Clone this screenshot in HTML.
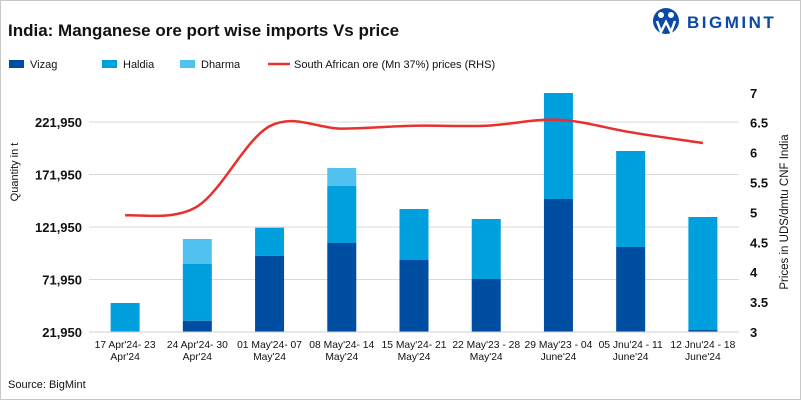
<!DOCTYPE html>
<html><head><meta charset="utf-8"><style>
body{margin:0;background:#fff;font-family:"Liberation Sans",sans-serif;}
#wrap{position:relative;width:799px;height:398px;border:1px solid #c8c8c8;overflow:hidden;}
</style></head><body>
<div id="wrap">
<svg id="svg" width="801" height="400" style="position:absolute;left:-1px;top:-1px">
<text x="8" y="36" font-size="17" font-weight="bold" fill="#111">India: Manganese ore port wise imports Vs price</text>
<g>
<circle cx="666" cy="21" r="13" fill="#0a4aa6"/>
<circle cx="661" cy="15" r="3" fill="#fff"/><circle cx="671" cy="15" r="3" fill="#fff"/>
<path d="M657 21 L661 32 L666 22 L671 32 L675 21" stroke="#fff" stroke-width="2.5" fill="none"/>
<text x="687" y="28" font-size="17" font-weight="bold" fill="#0a4aa6" letter-spacing="2.5">BIGMINT</text>
</g>
<g>
<rect x="9" y="60" width="15" height="8" fill="#004ea1"/>
<text x="30" y="68" font-size="11" fill="#111">Vizag</text>
<rect x="102" y="60" width="15" height="8" fill="#009fde"/>
<text x="123" y="68" font-size="11" fill="#111">Haldia</text>
<rect x="180" y="60" width="15" height="8" fill="#51c1f0"/>
<text x="201" y="68" font-size="11" fill="#111">Dharma</text>
<line x1="268" y1="64" x2="290" y2="64" stroke="#e8302e" stroke-width="2.5"/>
<text x="294" y="68" font-size="11" fill="#111">South African ore (Mn 37%) prices (RHS)</text>
</g>
<text transform="translate(18,172) rotate(-90)" font-size="11" fill="#111" text-anchor="middle">Quantity in t</text>
<text transform="translate(788,212) rotate(-90)" font-size="11.5" fill="#111" text-anchor="middle">Prices in UDS/dmtu CNF India</text>
<text x="8" y="388" font-size="11" fill="#111">Source: BigMint</text>
<g id="grid"></g><g id="bars"></g><g id="line"></g><g id="axes"></g>
</svg>
</div>
<script>
const categories=[["17 Apr'24- 23","Apr'24"],["24 Apr'24- 30","Apr'24"],["01 May'24- 07","May'24"],["08 May'24- 14","May'24"],["15 May'24- 21","May'24"],["22 May'23 - 28","May'24"],["29 May'23 - 04","June'24"],["05 Jnu'24 - 11","June'24"],["12 Jnu'24 - 18","June'24"]];
const vizag=[0,10760,72670,84760,68570,50480,126670,80950,1900];
const haldia=[27620,54000,26660,54290,48570,57140,100950,91430,107620];
const dharma=[0,23810,0,17140,0,0,0,0,0];
const price=[4.95,5.1,6.44,6.4,6.45,6.45,6.55,6.34,6.16];
const leftTicks=["21,950","71,950","121,950","171,950","221,950"];
const rightTicks=["3","3.5","4","4.5","5","5.5","6","6.5","7"];
const NS="http://www.w3.org/2000/svg";
const x0=89,x1=739,base=332;
const step=(x1-x0)/categories.length;
const xc=i=>x0+step*(i+0.5);
const yL=v=>base-v/50000*52.5;
const yR=p=>base-(p-3)/0.5*29.9;
function mk(tag,attrs,parent){const e=document.createElementNS(NS,tag);for(const k in attrs)e.setAttribute(k,attrs[k]);document.getElementById(parent).appendChild(e);return e;}
leftTicks.forEach((t,i)=>{const y=yL(i*50000);
 if(i>0){const g=mk('line',{x1:x0,x2:x1,y1:y,y2:y,stroke:'#d9d9d9','stroke-width':1},'grid');
 
 }
 const tx=mk('text',{x:82,y:y+5,'font-size':13,'font-weight':'bold','text-anchor':'end',fill:'#111'},'axes');tx.textContent=t;
 
 });
rightTicks.forEach((t,i)=>{const y=yR(+t);
 const tx=mk('text',{x:750,y:y+5,'font-size':13,'font-weight':'bold',fill:'#111'},'axes');tx.textContent=t;
 
 });
const ax=mk('line',{x1:x0,x2:x1,y1:base,y2:base,stroke:'#d0d0d0'},'axes');


const bw=29;
categories.forEach((c,i)=>{
 let cum=0;
 [[vizag,'#004ea1','vizag'],[haldia,'#009fde','haldia'],[dharma,'#51c1f0','dharma']].forEach(([arr,col,nm])=>{
  const v=arr[i]; if(v<=0)return;
  const r=mk('rect',{x:xc(i)-bw/2,y:yL(cum+v),width:bw,height:yL(cum)-yL(cum+v),fill:col},'bars');
  
  
  cum+=v;});
 c.forEach((ln,j)=>{const t=mk('text',{x:xc(i),y:348+j*12,'font-size':10.3,'text-anchor':'middle',fill:'#111'},'axes');t.textContent=ln;
  
  });
});
const pts=price.map((p,i)=>[xc(i),yR(p)]);
let d='M'+pts[0][0]+' '+pts[0][1];
for(let i=0;i<pts.length-1;i++){const p0=pts[Math.max(0,i-1)],p1=pts[i],p2=pts[i+1],p3=pts[Math.min(pts.length-1,i+2)];
 d+=` C${p1[0]+(p2[0]-p0[0])/6} ${p1[1]+(p2[1]-p0[1])/6} ${p2[0]-(p3[0]-p1[0])/6} ${p2[1]-(p3[1]-p1[1])/6} ${p2[0]} ${p2[1]}`;}
const pl=mk('path',{d:d,fill:'none',stroke:'#e8302e','stroke-width':2.5},'line');


</script>
</body></html>
